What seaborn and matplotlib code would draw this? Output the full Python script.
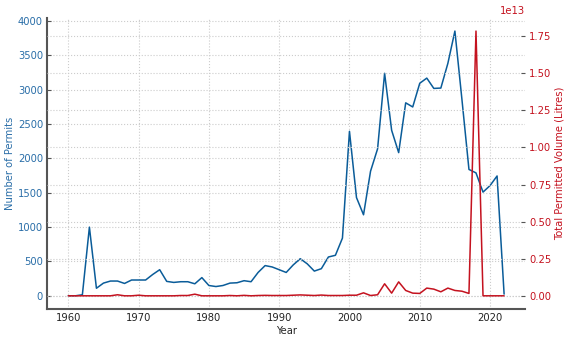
import matplotlib
matplotlib.use("Agg")
import matplotlib.pyplot as plt
import seaborn as sns
import pandas as pd
import numpy as np

years = list(range(1960, 2023))
permits = [0, 0, 15, 1000, 110, 185, 215, 215, 180, 230,
           230, 230, 310, 380, 210, 195, 205, 205, 175, 265,
           150, 135, 150, 185, 190, 220, 205, 340, 440, 420,
           380, 340, 450, 540, 465, 360, 395, 565, 590, 840,
           2395, 1430, 1180, 1815, 2140, 3240, 2410, 2085, 2810, 2750,
           3095, 3170, 3020, 3025, 3385, 3855, 2860, 1840, 1790, 1510,
           1605, 1745, 25]
volume_e13 = [0, 0, 0, 0, 0, 0, 0, 0.007, 0, 0,
              0.004, 0, 0, 0, 0, 0, 0.002, 0.002, 0.011, 0,
              0, 0, 0, 0.002, 0, 0.003, 0, 0.002, 0.003, 0.002,
              0.002, 0.002, 0.004, 0.006, 0.004, 0.002, 0.005, 0.002, 0.002, 0.002,
              0.004, 0.004, 0.020, 0.002, 0.007, 0.081, 0.018, 0.094, 0.036, 0.018,
              0.016, 0.052, 0.045, 0.027, 0.052, 0.036, 0.031, 0.016, 1.785, 0.0,
              0.0, 0.0, 0.0]
volume = [v * 1e13 for v in volume_e13]

df = pd.DataFrame({"Year": years, "Permits": permits, "Volume": volume})

blue = "#0a5c99"
blue_lbl = "#2a6ea8"
red = "#c4121f"
grid_c = "#cccccc"
spine_c = "#555555"
fs = 7.2

sns.set_style("white")
plt.rcParams['font.family'] = ['DejaVu Sans']
plt.rcParams['font.size'] = fs

fig = plt.figure(figsize=(5.69, 3.43), dpi=100)
ax = fig.add_axes([0.083, 0.099, 0.84, 0.849])
ax2 = ax.twinx()

sns.lineplot(data=df, x="Year", y="Permits", ax=ax, color=blue, lw=1.1)
sns.lineplot(data=df, x="Year", y="Volume", ax=ax2, color=red, lw=1.1)

ax.set_xlim(1957, 2025)
ax.set_xticks([1960, 1970, 1980, 1990, 2000, 2010, 2020])
ax.set_yticks(np.arange(0, 4001, 500))
ax.set_ylabel("Number of Permits", color=blue_lbl, fontsize=fs, labelpad=2)
ax.set_xlabel("Year", fontsize=fs, labelpad=2)
ax2.set_ylabel("Total Permitted Volume (Litres)", color=red, fontsize=fs, labelpad=2)

ax.tick_params(axis='y', colors=spine_c, labelcolor=blue_lbl, direction='in', length=3, labelsize=fs, pad=3)
ax.tick_params(axis='x', colors=spine_c, labelcolor='#222222', direction='in', length=3, labelsize=fs, pad=3)
ax2.tick_params(axis='y', colors=spine_c, labelcolor=red, direction='in', length=3, labelsize=fs, pad=3)
ax2.yaxis.get_offset_text().set_color(red)
ax2.yaxis.get_offset_text().set_fontsize(fs)

ax.grid(True, color=grid_c, linestyle=':', linewidth=0.8)
ax2.grid(True, axis='y', color=grid_c, linestyle=':', linewidth=0.8)
ax.set_axisbelow(True)

for a in (ax, ax2):
    a.spines['top'].set_visible(False)
    a.spines['right'].set_visible(False)
ax2.spines['left'].set_visible(False)
ax2.spines['bottom'].set_visible(False)
ax.spines['left'].set_color(spine_c)
ax.spines['bottom'].set_color(spine_c)
ax.spines['left'].set_linewidth(1.5)
ax.spines['bottom'].set_linewidth(1.5)

fig.savefig("out.png", dpi=100)
